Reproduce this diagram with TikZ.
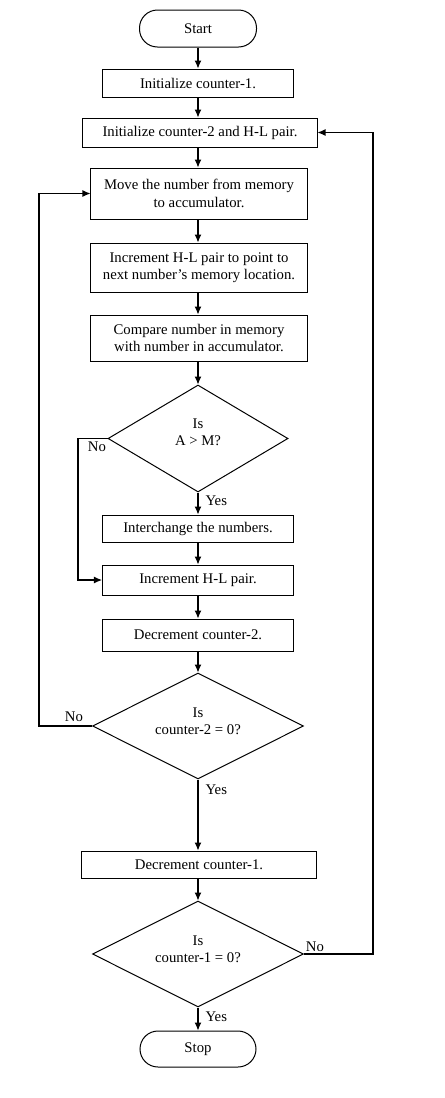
\documentclass[tikz,border=0pt]{standalone}
\usepackage{fontspec}
\setmainfont{Liberation Serif}
\usetikzlibrary{shapes.geometric,arrows.meta}
\begin{document}
\begin{tikzpicture}[x=1bp,y=-1bp,
  every node/.style={font=\fontsize{14.8}{17.5}\selectfont, inner sep=0pt},
  proc/.style={draw, rectangle, line width=1bp, align=center},
  term/.style={draw, rectangle, rounded corners=18bp, line width=1bp, align=center},
  dec/.style={draw, diamond, line width=1bp},
  dtext/.style={align=center},
  arr/.style={-{Latex[length=8bp,width=7bp]}, line width=1.1bp},
  ln/.style={line width=1.1bp}]
\useasboundingbox[fill=white] (0,0) rectangle (445,1098);

\node[term, minimum width=117bp, minimum height=37bp] (start) at (198,28.5) {Start};
\node[proc, minimum width=191bp, minimum height=28bp] (init1) at (198,83) {Initialize counter-1.};
\node[proc, minimum width=234bp, minimum height=29bp] (init2) at (200,132.5) {Initialize counter-2 and H-L pair.};
\node[proc, minimum width=216bp, minimum height=51bp] (move) at (199,193.5) {Move the number from memory\\to accumulator.};
\node[proc, minimum width=216bp, minimum height=49bp] (inc) at (199,267.5) {Increment H-L pair to point to\\next number’s memory location.};
\node[proc, minimum width=216bp, minimum height=46bp] (cmp) at (199,338) {Compare number in memory\\with number in accumulator.};
\node[dec, minimum width=180bp, minimum height=107bp] (d1) at (198,438.5) {};
\node[dtext] (d1t) at (198,432) {Is\\A > M?};
\node[proc, minimum width=191bp, minimum height=27bp] (xch) at (198,528.5) {Interchange the numbers.};
\node[proc, minimum width=191bp, minimum height=30bp] (inchl) at (198,580) {Increment H-L pair.};
\node[proc, minimum width=191bp, minimum height=32bp] (dec2) at (198,635) {Decrement counter-2.};
\node[dec, minimum width=211bp, minimum height=106bp] (d2) at (198,726) {};
\node[dtext] (d2t) at (198,721) {Is\\counter-2 = 0?};
\node[proc, minimum width=234bp, minimum height=27bp] (dec1) at (199,864.5) {Decrement counter-1.};
\node[dec, minimum width=211bp, minimum height=106bp] (d3) at (198,954) {};
\node[dtext] (d3t) at (198,949) {Is\\counter-1 = 0?};
\node[term, minimum width=116bp, minimum height=36bp] (stop) at (198,1049) {Stop};

\coordinate (c1) at (78,438.5);
\coordinate (c2) at (39,726);
\coordinate (c3) at (373,954);

\draw[arr] (start) -- (init1);
\draw[arr] (init1) -- (init1.south |- init2.north);
\draw[arr] (init1.south |- init2.south) -- (init1.south |- move.north);
\draw[arr] (init1.south |- move.south) -- (init1.south |- inc.north);
\draw[arr] (init1.south |- inc.south) -- (init1.south |- cmp.north);
\draw[arr] (init1.south |- cmp.south) -- (d1.north);
\draw[arr] (d1.south) -- node[pos=0.39, anchor=west, xshift=7bp] (yes1) {Yes} (xch.north);
\draw[arr] (xch) -- (inchl);
\draw[arr] (d1.west) -- (c1) |- (inchl.west);
\node (no1) at (97,447) {No};
\draw[arr] (inchl) -- (dec2);
\draw[arr] (dec2) -- (d2.north);
\draw[arr] (d2.south) -- node[pos=0.14, anchor=west, xshift=7bp] (yes2) {Yes} (d2.south |- dec1.north);
\draw[arr] (d2.west) -- (c2) |- (move.west);
\node (no2) at (74,717) {No};
\draw[arr] (d2.south |- dec1.south) -- (d3.north);
\draw[arr] (d3.south) -- node[pos=0.42, anchor=west, xshift=7bp] (yes3) {Yes} (stop.north);
\draw[arr] (d3.east) -- (c3) |- (init2.east);
\node (no3) at (315,947) {No};
\end{tikzpicture}
\end{document}
